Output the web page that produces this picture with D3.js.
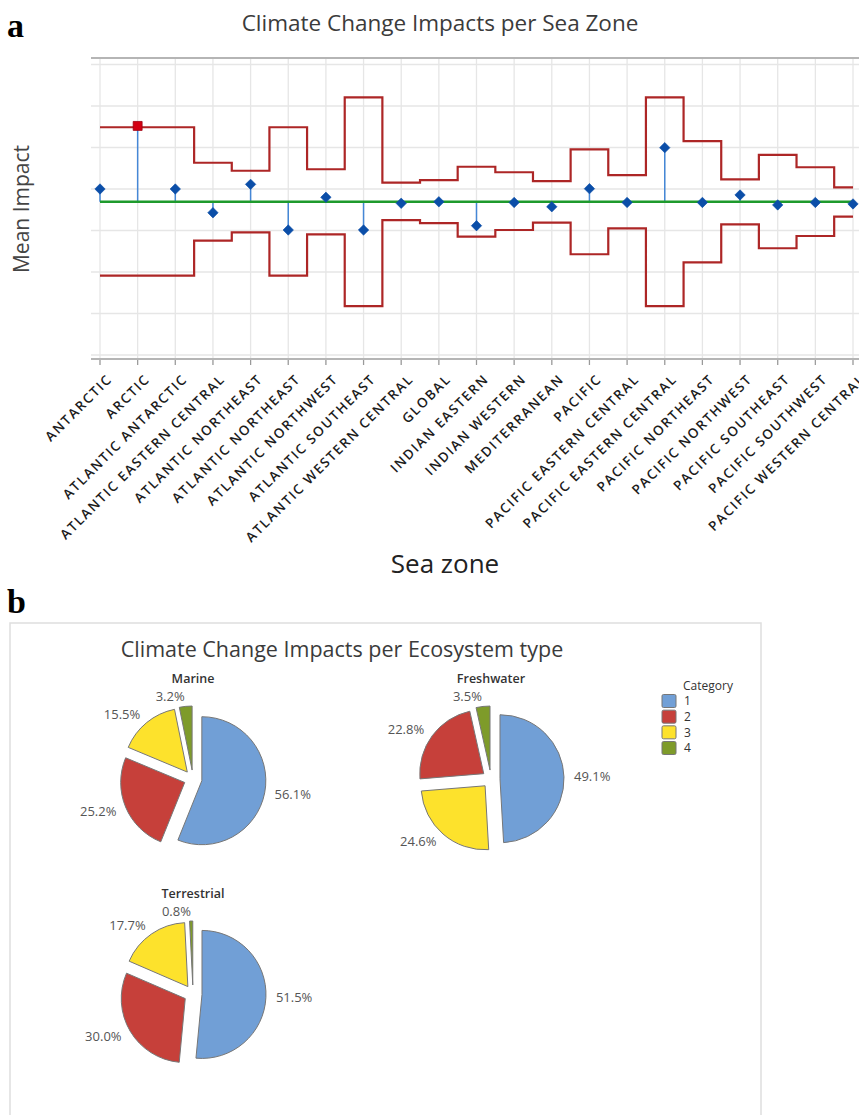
<!DOCTYPE html>
<html>
<head>
<meta charset="utf-8">
<script src="https://cdn.jsdelivr.net/npm/d3@7"></script>
<style>
body { margin: 0; background: #ffffff; }
text { font-family: "Open Sans", "Noto Sans", sans-serif; }
</style>
</head>
<body>
<svg id="graph"></svg>
<script>
//----------data: sea zones-------------
var zones = ["ANTARCTIC","ARCTIC","ATLANTIC ANTARCTIC","ATLANTIC EASTERN CENTRAL","ATLANTIC NORTHEAST",
	"ATLANTIC NORTHEAST","ATLANTIC NORTHWEST","ATLANTIC SOUTHEAST","ATLANTIC WESTERN CENTRAL","GLOBAL",
	"INDIAN EASTERN","INDIAN WESTERN","MEDITERRANEAN","PACIFIC","PACIFIC EASTERN CENTRAL",
	"PACIFIC EASTERN CENTRAL","PACIFIC NORTHEAST","PACIFIC NORTHWEST","PACIFIC SOUTHEAST","PACIFIC SOUTHWEST",
	"PACIFIC WESTERN CENTRAL"];
var zoneMeans = [2.00,2.38,2.00,1.857,2.028,1.753,1.950,1.753,1.914,1.923,1.779,1.919,1.893,2.002,1.919,
	2.249,1.919,1.964,1.904,1.919,1.910];
var upperLimits = [2.372,2.372,2.372,2.158,2.110,2.372,2.119,2.552,2.038,2.054,2.134,2.101,2.048,2.239,2.084,
	2.552,2.289,2.058,2.205,2.131,2.010];
var lowerLimits = [1.478,1.478,1.478,1.689,1.739,1.478,1.727,1.295,1.813,1.795,1.713,1.753,1.797,1.607,1.763,
	1.295,1.558,1.787,1.643,1.717,1.833];
var centerMean = 1.923;
var gridValues = [1.0,1.25,1.5,1.75,2.0,2.25,2.5,2.75];

//----------data: ecosystems-------------
var ecosystems = ["Marine","Freshwater","Terrestrial"];
var categories = ["1","2","3","4"];
var marineShares = [56.1,25.2,15.5,3.2];
var freshwaterShares = [49.1,22.8,24.6,3.5];
var terrestrialShares = [51.5,30.0,17.7,0.8];
var categoryColors = ["#719fd6","#c6403a","#fde22c","#7e9b2a"];

var screen = {width:859, height:1115}
var svg = d3.select("#graph")
	.attr("width", screen.width)
	.attr("height", screen.height)

//----------panel letters-------------
svg.append("text").attr("x",7).attr("y",37).text("a")
	.style("font-family","'Liberation Serif', serif").style("font-weight","bold").style("font-size","34px")
svg.append("text").attr("x",7).attr("y",613).text("b")
	.style("font-family","'Liberation Serif', serif").style("font-weight","bold").style("font-size","34px")

//----------top chart-------------
var drawSeaZones = function ()
{
	var plot = {left:91, right:859, top:58, bottom:359}
	var xScale = d3.scalePoint()
		.domain(d3.range(zones.length))
		.range([100,853])
	var yScale = d3.scaleLinear()
		.domain([1.0,2.75])
		.range([355,64.5])

	svg.append("text")
		.attr("x",440).attr("y",31)
		.attr("text-anchor","middle")
		.style("font-size","22.5px").style("font-weight","500").style("fill","#3b3b3b")
		.text("Climate Change Impacts per Sea Zone")

	// gridlines
	svg.append("g").selectAll("line")
		.data(gridValues)
		.enter()
		.append("line")
		.attr("x1",plot.left).attr("x2",plot.right)
		.attr("y1",function(d){ return yScale(d) })
		.attr("y2",function(d){ return yScale(d) })
		.style("stroke","#e6e6e6").style("stroke-width",1.3)
	svg.append("g").selectAll("line")
		.data(zones)
		.enter()
		.append("line")
		.attr("x1",function(d,i){ return xScale(i) })
		.attr("x2",function(d,i){ return xScale(i) })
		.attr("y1",plot.top).attr("y2",plot.bottom + 6)
		.style("stroke","#e6e6e6").style("stroke-width",1.3)
	// ticks
	svg.append("g").selectAll("line")
		.data(zones)
		.enter()
		.append("line")
		.attr("x1",function(d,i){ return xScale(i) })
		.attr("x2",function(d,i){ return xScale(i) })
		.attr("y1",plot.bottom).attr("y2",plot.bottom + 6)
		.style("stroke","#9a9a9a").style("stroke-width",1.2)
	svg.append("line")
		.attr("x1",plot.left).attr("x2",plot.right)
		.attr("y1",plot.top).attr("y2",plot.top)
		.style("stroke","#b5b5b5").style("stroke-width",2)
	svg.append("line")
		.attr("x1",plot.left).attr("x2",plot.right)
		.attr("y1",plot.bottom).attr("y2",plot.bottom)
		.style("stroke","#b5b5b5").style("stroke-width",2)

	// stems
	svg.append("g").selectAll("line")
		.data(zoneMeans)
		.enter()
		.append("line")
		.attr("x1",function(d,i){ return xScale(i) })
		.attr("x2",function(d,i){ return xScale(i) })
		.attr("y1",yScale(centerMean))
		.attr("y2",function(d){ return yScale(d) })
		.style("stroke","#4587d6").style("stroke-width",1.5)

	// decision limits
	var stepLine = d3.line()
		.x(function(d,i){ return xScale(i) })
		.y(function(d){ return yScale(d) })
		.curve(d3.curveStep)
	svg.append("path").datum(upperLimits)
		.attr("d",stepLine)
		.style("fill","none").style("stroke","#ad2626").style("stroke-width",2.2)
	svg.append("path").datum(lowerLimits)
		.attr("d",stepLine)
		.style("fill","none").style("stroke","#ad2626").style("stroke-width",2.2)

	// center line
	svg.append("line")
		.attr("x1",xScale(0)).attr("x2",xScale(zones.length-1))
		.attr("y1",yScale(centerMean)).attr("y2",yScale(centerMean))
		.style("stroke","#1e9a2c").style("stroke-width",2.6)

	// points
	var isOut = function(d,i){ return d > upperLimits[i] || d < lowerLimits[i] }
	svg.append("g").selectAll("path")
		.data(zoneMeans)
		.enter()
		.append("path")
		.attr("transform",function(d,i){
			return "translate(" + xScale(i) + "," + yScale(d) + ") rotate(45)"
		})
		.attr("d",function(d,i){
			return d3.symbol().type(d3.symbolSquare).size(isOut(d,i) ? 0 : 54)()
		})
		.style("fill","#0b4ea8").style("stroke","#0b4ea8").style("stroke-width",0.6)
	svg.append("g").selectAll("path")
		.data(zoneMeans)
		.enter()
		.append("path")
		.attr("transform",function(d,i){
			return "translate(" + xScale(i) + "," + yScale(d) + ")"
		})
		.attr("d",function(d,i){
			return d3.symbol().type(d3.symbolSquare).size(isOut(d,i) ? 80 : 0)()
		})
		.style("fill","#d40012").style("stroke","#a00010").style("stroke-width",0.8)

	// tick labels
	svg.append("g").selectAll("text")
		.data(zones)
		.enter()
		.append("text")
		.attr("transform",function(d,i){
			return "translate(" + (xScale(i) + 13) + "," + 380 + ") rotate(-45)"
		})
		.attr("text-anchor","end")
		.style("font-size","13.5px").style("font-weight","600")
		.style("letter-spacing","1.6px").style("fill","#1c1c1c")
		.text(function(d){ return d })

	svg.append("text")
		.attr("transform","translate(29,209) rotate(-90)")
		.attr("text-anchor","middle")
		.style("font-size","21px").style("fill","#444")
		.text("Mean Impact")
	svg.append("text")
		.attr("x",445).attr("y",573)
		.attr("text-anchor","middle")
		.style("font-size","26px").style("fill","#222")
		.text("Sea zone")
}

//----------pie charts-------------
var drawEcosystems = function ()
{
	svg.append("rect")
		.attr("x",10).attr("y",623)
		.attr("width",751).attr("height",520)
		.style("fill","none").style("stroke","#dedede").style("stroke-width",1.5)

	svg.append("text")
		.attr("x",342).attr("y",657)
		.attr("text-anchor","middle")
		.style("font-size","21.5px").style("font-weight","500").style("fill","#3b3b3b")
		.text("Climate Change Impacts per Ecosystem type")

	var colScale = d3.scalePoint().domain([0,1]).range([193,491])
	var rowScale = d3.scalePoint().domain([0,1]).range([779,994])
	var colorScale = d3.scaleOrdinal().domain(categories).range(categoryColors)
	var shares = [marineShares, freshwaterShares, terrestrialShares]
	var radius = 64
	var explode = 9

	var pie = d3.pie()
	var arc = d3.arc().innerRadius(0).outerRadius(radius)

	ecosystems.forEach(function(name, k)
	{
		var cx = colScale(k % 2)
		var cy = rowScale(Math.floor(k / 2))
		var g = svg.append("g").attr("transform","translate(" + cx + "," + cy + ")")
		var slices = pie(shares[k])

		g.selectAll("path")
			.data(slices)
			.enter()
			.append("path")
			.attr("transform",function(d){
				var a = (d.startAngle + d.endAngle) / 2
				return "translate(" + (Math.sin(a) * explode) + "," + (-Math.cos(a) * explode) + ")"
			})
			.attr("d",arc)
			.style("fill",function(d,i){ return colorScale(categories[i]) })
			.style("stroke","#777").style("stroke-width",1)

		g.selectAll(".pct")
			.data(slices)
			.enter()
			.append("text")
			.attr("class","pct")
			.attr("x",function(d){
				var a = (d.startAngle + d.endAngle) / 2
				return Math.sin(a) * (radius + 19)
			})
			.attr("y",function(d){
				var a = (d.startAngle + d.endAngle) / 2
				return -Math.cos(a) * (radius + 19)
			})
			.attr("dy","0.35em")
			.attr("text-anchor",function(d){
				var a = (d.startAngle + d.endAngle) / 2
				return Math.sin(a) < 0 ? "end" : "start"
			})
			.style("font-size","13px").style("fill","#555")
			.text(function(d){ return d.value.toFixed(1) + "%" })

		g.append("text")
			.attr("x",0).attr("y",-100)
			.attr("dy","0.35em")
			.attr("text-anchor","middle")
			.style("font-size","12.5px").style("font-weight","600").style("fill","#333")
			.text(name)
	})

	// legend
	svg.append("text")
		.attr("x",683).attr("y",686).attr("dy","0.35em")
		.style("font-size","12px").style("fill","#333")
		.text("Category")
	var legendScale = d3.scalePoint().domain(categories).range([701,748])
	var legend = svg.append("g").selectAll("g")
		.data(categories)
		.enter()
		.append("g")
	legend.append("rect")
		.attr("x",662)
		.attr("y",function(d){ return legendScale(d) - 6.5 })
		.attr("width",14).attr("height",13)
		.attr("rx",1.5)
		.style("fill",function(d){ return colorScale(d) })
		.style("stroke","#777").style("stroke-width",1)
	legend.append("text")
		.attr("x",684)
		.attr("y",function(d){ return legendScale(d) })
		.attr("dy","0.35em")
		.style("font-size","12px").style("fill","#333")
		.text(function(d){ return d })
}

drawSeaZones()
drawEcosystems()
</script>
</body>
</html>
